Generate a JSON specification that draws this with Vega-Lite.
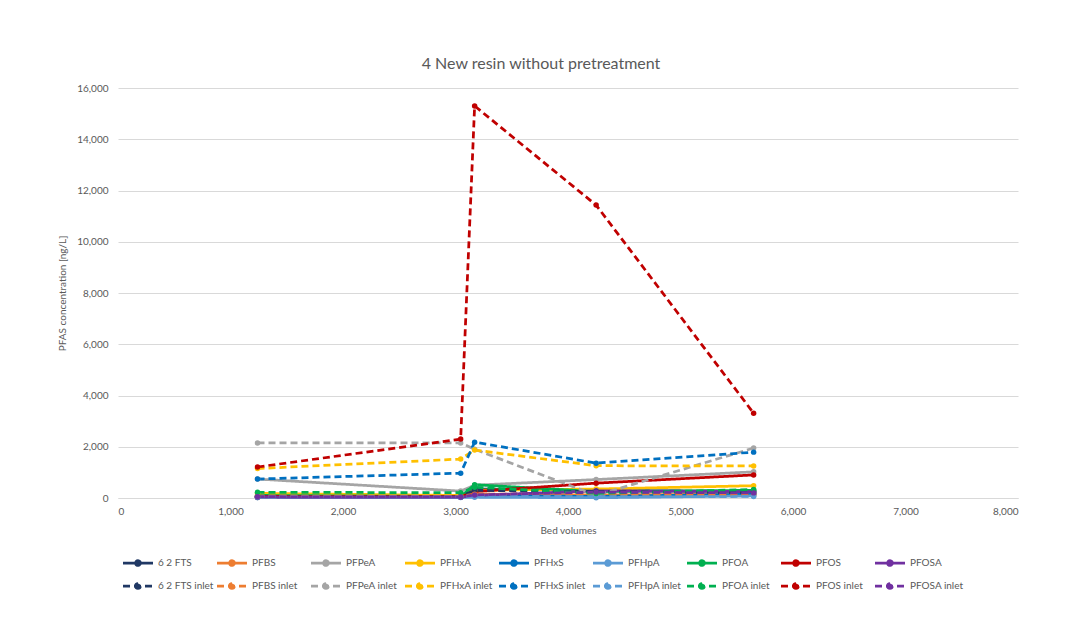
{
  "$schema": "https://vega.github.io/schema/vega-lite/v6.json",
  "autosize": "none",
  "width": 900,
  "height": 410,
  "padding": {"left": 118, "top": 88, "right": 57, "bottom": 134},
  "background": "#ffffff",
  "title": {"text": "4 New resin without pretreatment", "anchor": "middle", "frame": "group", "dx": -27, "offset": 11, "fontSize": 16, "font": "Lato", "fontWeight": "normal", "color": "#595959"},
  "config": {
    "font": "Lato",
    "view": {"stroke": null},
    "axis": {"labelFont": "Lato", "labelFontSize": 10, "labelColor": "#595959", "titleFont": "Lato", "titleFontSize": 10, "titleFontWeight": "normal", "titleColor": "#595959", "ticks": false},
    "legend": {"labelFont": "Lato", "labelFontSize": 10, "labelColor": "#595959"}
  },
  "data": {"values": [
    {"s": "6 2 FTS", "bv": 1240, "c": 20}, {"s": "6 2 FTS", "bv": 3046, "c": 30}, {"s": "6 2 FTS", "bv": 3170, "c": 350}, {"s": "6 2 FTS", "bv": 4250, "c": 300}, {"s": "6 2 FTS", "bv": 5650, "c": 250},
    {"s": "PFBS", "bv": 1240, "c": 30}, {"s": "PFBS", "bv": 3046, "c": 40}, {"s": "PFBS", "bv": 3170, "c": 150}, {"s": "PFBS", "bv": 4250, "c": 120}, {"s": "PFBS", "bv": 5650, "c": 150},
    {"s": "PFPeA", "bv": 1240, "c": 740}, {"s": "PFPeA", "bv": 3046, "c": 270}, {"s": "PFPeA", "bv": 3170, "c": 500}, {"s": "PFPeA", "bv": 4250, "c": 720}, {"s": "PFPeA", "bv": 5650, "c": 1020},
    {"s": "PFHxA", "bv": 1240, "c": 180}, {"s": "PFHxA", "bv": 3046, "c": 100}, {"s": "PFHxA", "bv": 3170, "c": 300}, {"s": "PFHxA", "bv": 4250, "c": 350}, {"s": "PFHxA", "bv": 5650, "c": 480},
    {"s": "PFHxS", "bv": 1240, "c": 50}, {"s": "PFHxS", "bv": 3046, "c": 40}, {"s": "PFHxS", "bv": 3170, "c": 100}, {"s": "PFHxS", "bv": 4250, "c": 60}, {"s": "PFHxS", "bv": 5650, "c": 150},
    {"s": "PFHpA", "bv": 1240, "c": 20}, {"s": "PFHpA", "bv": 3046, "c": 20}, {"s": "PFHpA", "bv": 3170, "c": 30}, {"s": "PFHpA", "bv": 4250, "c": 10}, {"s": "PFHpA", "bv": 5650, "c": 80},
    {"s": "PFOA", "bv": 1240, "c": 100}, {"s": "PFOA", "bv": 3046, "c": 60}, {"s": "PFOA", "bv": 3170, "c": 520}, {"s": "PFOA", "bv": 4250, "c": 250}, {"s": "PFOA", "bv": 5650, "c": 300},
    {"s": "PFOS", "bv": 1240, "c": 60}, {"s": "PFOS", "bv": 3046, "c": 50}, {"s": "PFOS", "bv": 3170, "c": 250}, {"s": "PFOS", "bv": 4250, "c": 580}, {"s": "PFOS", "bv": 5650, "c": 900},
    {"s": "PFOSA", "bv": 1240, "c": 40}, {"s": "PFOSA", "bv": 3046, "c": 30}, {"s": "PFOSA", "bv": 3170, "c": 100}, {"s": "PFOSA", "bv": 4250, "c": 280}, {"s": "PFOSA", "bv": 5650, "c": 250},
    {"s": "6 2 FTS inlet", "bv": 1240, "c": 50}, {"s": "6 2 FTS inlet", "bv": 3046, "c": 60}, {"s": "6 2 FTS inlet", "bv": 3170, "c": 300}, {"s": "6 2 FTS inlet", "bv": 4250, "c": 250}, {"s": "6 2 FTS inlet", "bv": 5650, "c": 200},
    {"s": "PFBS inlet", "bv": 1240, "c": 80}, {"s": "PFBS inlet", "bv": 3046, "c": 70}, {"s": "PFBS inlet", "bv": 3170, "c": 150}, {"s": "PFBS inlet", "bv": 4250, "c": 150}, {"s": "PFBS inlet", "bv": 5650, "c": 120},
    {"s": "PFPeA inlet", "bv": 1240, "c": 2150}, {"s": "PFPeA inlet", "bv": 3046, "c": 2150}, {"s": "PFPeA inlet", "bv": 3170, "c": 1900}, {"s": "PFPeA inlet", "bv": 4250, "c": 100}, {"s": "PFPeA inlet", "bv": 5650, "c": 1950},
    {"s": "PFHxA inlet", "bv": 1240, "c": 1150}, {"s": "PFHxA inlet", "bv": 3046, "c": 1520}, {"s": "PFHxA inlet", "bv": 3170, "c": 1870}, {"s": "PFHxA inlet", "bv": 4250, "c": 1260}, {"s": "PFHxA inlet", "bv": 5650, "c": 1250},
    {"s": "PFHxS inlet", "bv": 1240, "c": 740}, {"s": "PFHxS inlet", "bv": 3046, "c": 970}, {"s": "PFHxS inlet", "bv": 3170, "c": 2180}, {"s": "PFHxS inlet", "bv": 4250, "c": 1360}, {"s": "PFHxS inlet", "bv": 5650, "c": 1790},
    {"s": "PFHpA inlet", "bv": 1240, "c": 40}, {"s": "PFHpA inlet", "bv": 3046, "c": 40}, {"s": "PFHpA inlet", "bv": 3170, "c": 80}, {"s": "PFHpA inlet", "bv": 4250, "c": 50}, {"s": "PFHpA inlet", "bv": 5650, "c": 60},
    {"s": "PFOA inlet", "bv": 1240, "c": 220}, {"s": "PFOA inlet", "bv": 3046, "c": 210}, {"s": "PFOA inlet", "bv": 3170, "c": 420}, {"s": "PFOA inlet", "bv": 4250, "c": 180}, {"s": "PFOA inlet", "bv": 5650, "c": 330},
    {"s": "PFOS inlet", "bv": 1240, "c": 1210}, {"s": "PFOS inlet", "bv": 3046, "c": 2300}, {"s": "PFOS inlet", "bv": 3170, "c": 15300}, {"s": "PFOS inlet", "bv": 4250, "c": 11430}, {"s": "PFOS inlet", "bv": 5650, "c": 3310},
    {"s": "PFOSA inlet", "bv": 1240, "c": 50}, {"s": "PFOSA inlet", "bv": 3046, "c": 40}, {"s": "PFOSA inlet", "bv": 3170, "c": 120}, {"s": "PFOSA inlet", "bv": 4250, "c": 230}, {"s": "PFOSA inlet", "bv": 5650, "c": 200}
  ]},
  "mark": {"type": "line", "strokeWidth": 2.75, "point": {"filled": true, "size": 30}},
  "encoding": {
    "x": {"field": "bv", "type": "quantitative", "title": "Bed volumes",
      "scale": {"domain": [0, 8000], "nice": false},
      "axis": {"values": [0, 1000, 2000, 3000, 4000, 5000, 6000, 7000, 8000], "format": ",.0f", "grid": false, "domain": true, "domainColor": "#d9d9d9", "labelPadding": 8, "titlePadding": 9}},
    "y": {"field": "c", "type": "quantitative", "title": "PFAS concentration [ng/L]",
      "scale": {"domain": [0, 16000], "nice": false},
      "axis": {"values": [0, 2000, 4000, 6000, 8000, 10000, 12000, 14000, 16000], "format": ",.0f", "grid": true, "gridColor": "#d9d9d9", "domain": false, "labelPadding": 10, "titlePadding": 9}},
    "color": {"field": "s", "type": "nominal",
      "scale": {
        "domain": ["6 2 FTS", "PFBS", "PFPeA", "PFHxA", "PFHxS", "PFHpA", "PFOA", "PFOS", "PFOSA", "6 2 FTS inlet", "PFBS inlet", "PFPeA inlet", "PFHxA inlet", "PFHxS inlet", "PFHpA inlet", "PFOA inlet", "PFOS inlet", "PFOSA inlet"],
        "range": ["#203864", "#ED7D31", "#A5A5A5", "#FFC000", "#0070C0", "#5B9BD5", "#00B050", "#C00000", "#7030A0", "#203864", "#ED7D31", "#A5A5A5", "#FFC000", "#0070C0", "#5B9BD5", "#00B050", "#C00000", "#7030A0"]},
      "legend": {"title": null, "orient": "none", "legendX": 11, "legendY": 466, "direction": "horizontal", "columns": 9, "gridAlign": "all", "columnPadding": -3, "rowPadding": 6,
        "symbolType": "M-2,0L2,0M-0.32,0a0.32,0.32 0 1,0 0.64,0a0.32,0.32 0 1,0 -0.64,0Z", "symbolSize": 225, "symbolStrokeWidth": 2.75, "labelOffset": 11,
        "encode": {"symbols": {"update": {"fill": {"scale": "color", "field": "value"}}}}}},
    "strokeDash": {"field": "s", "type": "nominal",
      "scale": {
        "domain": ["6 2 FTS", "PFBS", "PFPeA", "PFHxA", "PFHxS", "PFHpA", "PFOA", "PFOS", "PFOSA", "6 2 FTS inlet", "PFBS inlet", "PFPeA inlet", "PFHxA inlet", "PFHxS inlet", "PFHpA inlet", "PFOA inlet", "PFOS inlet", "PFOSA inlet"],
        "range": [[1, 0], [1, 0], [1, 0], [1, 0], [1, 0], [1, 0], [1, 0], [1, 0], [1, 0], [7, 4], [7, 4], [7, 4], [7, 4], [7, 4], [7, 4], [7, 4], [7, 4], [7, 4]]},
      "legend": {"title": null, "orient": "none", "legendX": 11, "legendY": 466, "direction": "horizontal", "columns": 9, "gridAlign": "all", "columnPadding": -3, "rowPadding": 6,
        "symbolType": "M-2,0L2,0M-0.32,0a0.32,0.32 0 1,0 0.64,0a0.32,0.32 0 1,0 -0.64,0Z", "symbolSize": 225, "symbolStrokeWidth": 2.75, "labelOffset": 11,
        "encode": {"symbols": {"update": {"fill": {"scale": "color", "field": "value"}}}}}}
  }
}
